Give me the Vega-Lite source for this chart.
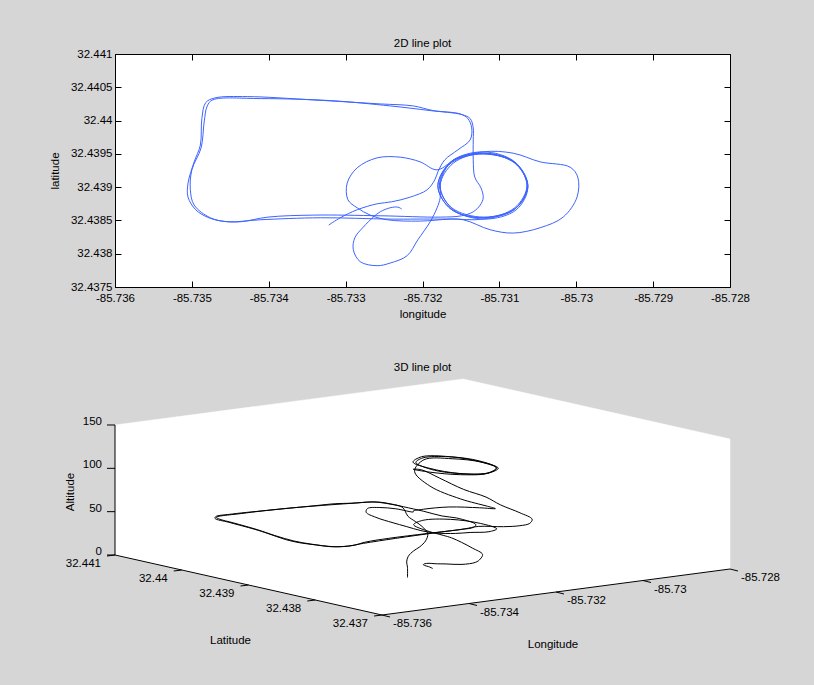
{
  "$schema": "https://vega.github.io/schema/vega-lite/v6.json",
  "background": "#d6d6d6",
  "padding": {"left": 48, "top": 37, "right": 36, "bottom": 36},
  "spacing": 41,
  "config": {
    "font": "Liberation Sans",
    "view": {"stroke": null},
    "axis": {"labelFont": "Liberation Sans", "labelFontSize": 11.5, "labelColor": "#000", "titleFont": "Liberation Sans", "titleFontSize": 11.5, "titleFontWeight": "normal", "titleColor": "#000", "tickColor": "#000", "domain": false, "grid": false, "labelFlush": false},
    "title": {"font": "Liberation Sans", "fontSize": 11.5, "fontWeight": "normal", "color": "#000"},
    "text": {"font": "Liberation Sans", "fontSize": 11.5, "color": "#000"}
  },
  "datasets": {
    "track": [
      {"lon":-85.73322,"lat":32.43843,"alt":0},{"lon":-85.73322,"lat":32.43843,"alt":12},{"lon":-85.73307,"lat":32.43854,"alt":15},{"lon":-85.73285,"lat":32.43866,"alt":18},{"lon":-85.73259,"lat":32.43875,"alt":21},{"lon":-85.73240,"lat":32.43878,"alt":24},{"lon":-85.73216,"lat":32.43885,"alt":28},{"lon":-85.73194,"lat":32.43896,"alt":33},{"lon":-85.73184,"lat":32.43911,"alt":38},{"lon":-85.73180,"lat":32.43923,"alt":41},
      {"lon":-85.73171,"lat":32.43941,"alt":44},{"lon":-85.73154,"lat":32.43956,"alt":46},{"lon":-85.73138,"lat":32.43971,"alt":47},{"lon":-85.73136,"lat":32.43989,"alt":47},{"lon":-85.73141,"lat":32.44003,"alt":47},{"lon":-85.73151,"lat":32.44010,"alt":47},{"lon":-85.73186,"lat":32.44015,"alt":47},{"lon":-85.73212,"lat":32.44022,"alt":47},{"lon":-85.73255,"lat":32.44025,"alt":47},{"lon":-85.73342,"lat":32.44031,"alt":47},
      {"lon":-85.73428,"lat":32.44036,"alt":47},{"lon":-85.73470,"lat":32.44034,"alt":47},{"lon":-85.73482,"lat":32.44027,"alt":47},{"lon":-85.73487,"lat":32.44003,"alt":47},{"lon":-85.73489,"lat":32.43963,"alt":46},{"lon":-85.73497,"lat":32.43938,"alt":46},{"lon":-85.73505,"lat":32.43906,"alt":45},{"lon":-85.73505,"lat":32.43885,"alt":45},{"lon":-85.73495,"lat":32.43866,"alt":45},{"lon":-85.73480,"lat":32.43855,"alt":44},
      {"lon":-85.73461,"lat":32.43849,"alt":44},{"lon":-85.73437,"lat":32.43848,"alt":44},{"lon":-85.73401,"lat":32.43855,"alt":44},{"lon":-85.73342,"lat":32.43858,"alt":44},{"lon":-85.73255,"lat":32.43857,"alt":44},{"lon":-85.73177,"lat":32.43855,"alt":44},{"lon":-85.73149,"lat":32.43857,"alt":44},{"lon":-85.73134,"lat":32.43863,"alt":45},{"lon":-85.73125,"lat":32.43873,"alt":45},{"lon":-85.73121,"lat":32.43884,"alt":45},
      {"lon":-85.73124,"lat":32.43899,"alt":46},{"lon":-85.73132,"lat":32.43915,"alt":46},{"lon":-85.73134,"lat":32.43941,"alt":47},{"lon":-85.73134,"lat":32.43971,"alt":47},{"lon":-85.73134,"lat":32.43989,"alt":47},{"lon":-85.73138,"lat":32.44003,"alt":47},{"lon":-85.73149,"lat":32.44009,"alt":47},{"lon":-85.73190,"lat":32.44015,"alt":47},{"lon":-85.73242,"lat":32.44022,"alt":47},{"lon":-85.73320,"lat":32.44030,"alt":47},
      {"lon":-85.73411,"lat":32.44033,"alt":47},{"lon":-85.73473,"lat":32.44031,"alt":47},{"lon":-85.73480,"lat":32.44022,"alt":47},{"lon":-85.73484,"lat":32.43998,"alt":47},{"lon":-85.73488,"lat":32.43959,"alt":46},{"lon":-85.73500,"lat":32.43926,"alt":46},{"lon":-85.73502,"lat":32.43896,"alt":45},{"lon":-85.73497,"lat":32.43873,"alt":45},{"lon":-85.73476,"lat":32.43854,"alt":44},{"lon":-85.73453,"lat":32.43848,"alt":44},
      {"lon":-85.73411,"lat":32.43851,"alt":44},{"lon":-85.73333,"lat":32.43854,"alt":44},{"lon":-85.73242,"lat":32.43852,"alt":45},{"lon":-85.73177,"lat":32.43852,"alt":45},{"lon":-85.73147,"lat":32.43851,"alt":46},{"lon":-85.73112,"lat":32.43836,"alt":46},{"lon":-85.73082,"lat":32.43831,"alt":46},{"lon":-85.73047,"lat":32.43839,"alt":45},{"lon":-85.73017,"lat":32.43855,"alt":45},{"lon":-85.72999,"lat":32.43885,"alt":46},
      {"lon":-85.72998,"lat":32.43915,"alt":50},{"lon":-85.73008,"lat":32.43930,"alt":57},{"lon":-85.73047,"lat":32.43938,"alt":67},{"lon":-85.73082,"lat":32.43951,"alt":80},{"lon":-85.73121,"lat":32.43953,"alt":92},{"lon":-85.73163,"lat":32.43938,"alt":98},{"lon":-85.73180,"lat":32.43902,"alt":102},{"lon":-85.73163,"lat":32.43867,"alt":104},{"lon":-85.73121,"lat":32.43854,"alt":105},{"lon":-85.73080,"lat":32.43867,"alt":106},
      {"lon":-85.73063,"lat":32.43902,"alt":106},{"lon":-85.73080,"lat":32.43938,"alt":107},{"lon":-85.73121,"lat":32.43953,"alt":107},{"lon":-85.73162,"lat":32.43939,"alt":106},{"lon":-85.73178,"lat":32.43903,"alt":106},{"lon":-85.73162,"lat":32.43869,"alt":105},{"lon":-85.73120,"lat":32.43855,"alt":105},{"lon":-85.73078,"lat":32.43869,"alt":106},{"lon":-85.73064,"lat":32.43903,"alt":107},{"lon":-85.73081,"lat":32.43938,"alt":107},
      {"lon":-85.73121,"lat":32.43951,"alt":106},{"lon":-85.73160,"lat":32.43936,"alt":106},{"lon":-85.73177,"lat":32.43902,"alt":105},{"lon":-85.73160,"lat":32.43866,"alt":105},{"lon":-85.73119,"lat":32.43852,"alt":106},{"lon":-85.73078,"lat":32.43866,"alt":106},{"lon":-85.73063,"lat":32.43900,"alt":106},{"lon":-85.73078,"lat":32.43935,"alt":105},{"lon":-85.73120,"lat":32.43950,"alt":104},{"lon":-85.73163,"lat":32.43936,"alt":96},
      {"lon":-85.73180,"lat":32.43902,"alt":86},{"lon":-85.73163,"lat":32.43867,"alt":76},{"lon":-85.73121,"lat":32.43854,"alt":67},{"lon":-85.73080,"lat":32.43869,"alt":59},{"lon":-85.73064,"lat":32.43903,"alt":53},{"lon":-85.73081,"lat":32.43938,"alt":49},{"lon":-85.73121,"lat":32.43950,"alt":47},{"lon":-85.73154,"lat":32.43944,"alt":48},{"lon":-85.73181,"lat":32.43926,"alt":52},{"lon":-85.73203,"lat":32.43938,"alt":55},
      {"lon":-85.73229,"lat":32.43945,"alt":57},{"lon":-85.73259,"lat":32.43944,"alt":58},{"lon":-85.73285,"lat":32.43929,"alt":58},{"lon":-85.73298,"lat":32.43906,"alt":57},{"lon":-85.73297,"lat":32.43881,"alt":55},{"lon":-85.73285,"lat":32.43869,"alt":52},{"lon":-85.73268,"lat":32.43858,"alt":48},{"lon":-85.73246,"lat":32.43851,"alt":45},{"lon":-85.73203,"lat":32.43849,"alt":42},{"lon":-85.73164,"lat":32.43852,"alt":40},
      {"lon":-85.73121,"lat":32.43852,"alt":38},{"lon":-85.73080,"lat":32.43867,"alt":36},{"lon":-85.73063,"lat":32.43902,"alt":35},{"lon":-85.73080,"lat":32.43936,"alt":35},{"lon":-85.73121,"lat":32.43951,"alt":34},{"lon":-85.73162,"lat":32.43938,"alt":34},{"lon":-85.73176,"lat":32.43911,"alt":33},{"lon":-85.73177,"lat":32.43884,"alt":32},{"lon":-85.73181,"lat":32.43869,"alt":32},{"lon":-85.73190,"lat":32.43848,"alt":31},
      {"lon":-85.73206,"lat":32.43821,"alt":30},{"lon":-85.73220,"lat":32.43797,"alt":28},{"lon":-85.73242,"lat":32.43786,"alt":26},{"lon":-85.73259,"lat":32.43782,"alt":24},{"lon":-85.73281,"lat":32.43788,"alt":22},{"lon":-85.73290,"lat":32.43806,"alt":20},{"lon":-85.73288,"lat":32.43824,"alt":17},{"lon":-85.73277,"lat":32.43840,"alt":14},{"lon":-85.73264,"lat":32.43855,"alt":10},{"lon":-85.73255,"lat":32.43863,"alt":7},
      {"lon":-85.73242,"lat":32.43869,"alt":4},{"lon":-85.73232,"lat":32.43870,"alt":2},{"lon":-85.73227,"lat":32.43867,"alt":0}
    ],
    "box": [
      {"lon":-85.736,"lat":32.441,"alt":150},{"lon":-85.728,"lat":32.441,"alt":150},{"lon":-85.728,"lat":32.437,"alt":150},{"lon":-85.728,"lat":32.437,"alt":0},{"lon":-85.736,"lat":32.437,"alt":0},{"lon":-85.736,"lat":32.441,"alt":0}
    ],
    "axes": [
      {"lon":-85.736,"lat":32.441,"alt":150},{"lon":-85.736,"lat":32.441,"alt":0},{"lon":-85.736,"lat":32.437,"alt":0},{"lon":-85.728,"lat":32.437,"alt":0}
    ],
    "ticks": [
      {"axis":"alt","lon":-85.736,"lat":32.441,"alt":0,"label":"0"},
      {"axis":"alt","lon":-85.736,"lat":32.441,"alt":50,"label":"50"},
      {"axis":"alt","lon":-85.736,"lat":32.441,"alt":100,"label":"100"},
      {"axis":"alt","lon":-85.736,"lat":32.441,"alt":150,"label":"150"},
      {"axis":"lat","lon":-85.736,"lat":32.441,"alt":0,"label":"32.441"},
      {"axis":"lat","lon":-85.736,"lat":32.44,"alt":0,"label":"32.44"},
      {"axis":"lat","lon":-85.736,"lat":32.439,"alt":0,"label":"32.439"},
      {"axis":"lat","lon":-85.736,"lat":32.438,"alt":0,"label":"32.438"},
      {"axis":"lat","lon":-85.736,"lat":32.437,"alt":0,"label":"32.437"},
      {"axis":"lon","lon":-85.736,"lat":32.437,"alt":0,"label":"-85.736"},
      {"axis":"lon","lon":-85.734,"lat":32.437,"alt":0,"label":"-85.734"},
      {"axis":"lon","lon":-85.732,"lat":32.437,"alt":0,"label":"-85.732"},
      {"axis":"lon","lon":-85.73,"lat":32.437,"alt":0,"label":"-85.73"},
      {"axis":"lon","lon":-85.728,"lat":32.437,"alt":0,"label":"-85.728"}
    ],
    "titles": [
      {"label":"Altitude","lon":-85.736,"lat":32.441,"alt":75},
      {"label":"Latitude","lon":-85.736,"lat":32.439,"alt":0},
      {"label":"Longitude","lon":-85.732,"lat":32.437,"alt":0}
    ]
  },
  "vconcat": [
    {
      "width": 615,
      "height": 233,
      "title": {"text": "2D line plot", "offset": -1},
      "view": {"fill": "white", "stroke": "#000", "strokeWidth": 1},
      "data": {"name": "track"},
      "layer": [
        {
          "mark": {"type": "line", "color": "#3c64ff", "strokeWidth": 1, "interpolate": "catmull-rom"},
          "encoding": {
            "x": {"field": "lon", "type": "quantitative", "title": "longitude",
              "scale": {"domain": [-85.736, -85.728], "nice": false, "zero": false},
              "axis": {"orient": "bottom", "values": [-85.736, -85.735, -85.734, -85.733, -85.732, -85.731, -85.73, -85.729, -85.728], "labelExpr": "replace(format(datum.value, '.6~g'), '\u2212', '-')", "tickSize": -6, "labelPadding": 11, "titlePadding": 5}},
            "y": {"field": "lat", "type": "quantitative", "title": "latitude",
              "scale": {"domain": [32.4375, 32.441], "nice": false, "zero": false},
              "axis": {"orient": "left", "values": [32.4375, 32.438, 32.4385, 32.439, 32.4395, 32.44, 32.4405, 32.441], "format": ".6~g", "tickSize": -6, "labelPadding": 9, "titlePadding": 10}},
            "order": {"value": null}
          }
        },
        {
          "mark": {"type": "point", "opacity": 0},
          "encoding": {
            "x": {"field": "lon", "type": "quantitative", "axis": {"orient": "top", "values": [-85.736, -85.735, -85.734, -85.733, -85.732, -85.731, -85.73, -85.729, -85.728], "labels": false, "tickSize": -6, "title": null}},
            "y": {"field": "lat", "type": "quantitative", "axis": {"orient": "right", "values": [32.4375, 32.438, 32.4385, 32.439, 32.4395, 32.44, 32.4405, 32.441], "labels": false, "tickSize": -6, "title": null}}
          }
        }
      ],
      "resolve": {"axis": {"x": "independent", "y": "independent"}}
    },
    {
      "width": 615,
      "height": 236,
      "title": {"text": "3D line plot", "offset": 4},
      "view": {"fill": null, "stroke": null},
      "encoding": {
        "x": {"field": "X", "type": "quantitative", "scale": {"domain": [-267, 348], "nice": false, "zero": false}, "axis": null},
        "y": {"field": "Y", "type": "quantitative", "scale": {"domain": [0, 236], "nice": false, "zero": false}, "axis": null}
      },
      "layer": [
        {
          "data": {"name": "box"},
          "transform": [
            {"calculate": "43500*(datum.lon+85.736)-66750*(datum.lat-32.437)", "as": "X"},
            {"calculate": "5750*(datum.lon+85.736)+15000*(datum.lat-32.437)+0.86667*datum.alt", "as": "Y"}
          ],
          "mark": {"type": "line", "fill": "white", "stroke": "white", "strokeWidth": 0.5},
          "encoding": {"order": {"value": null}}
        },
        {
          "data": {"name": "axes"},
          "transform": [
            {"calculate": "43500*(datum.lon+85.736)-66750*(datum.lat-32.437)", "as": "X"},
            {"calculate": "5750*(datum.lon+85.736)+15000*(datum.lat-32.437)+0.86667*datum.alt", "as": "Y"}
          ],
          "mark": {"type": "line", "color": "#000", "strokeWidth": 1},
          "encoding": {"order": {"value": null}}
        },
        {
          "data": {"name": "ticks"},
          "transform": [
            {"calculate": "43500*(datum.lon+85.736)-66750*(datum.lat-32.437)", "as": "X"},
            {"calculate": "5750*(datum.lon+85.736)+15000*(datum.lat-32.437)+0.86667*datum.alt", "as": "Y"},
            {"calculate": "datum.X + (datum.axis == 'lon' ? 8 : -8)", "as": "X2"},
            {"calculate": "datum.Y + (datum.axis == 'alt' ? 0 : datum.axis == 'lat' ? -1 : -2)", "as": "Y2"}
          ],
          "mark": {"type": "rule", "color": "#000", "strokeWidth": 1},
          "encoding": {"x2": {"field": "X2"}, "y2": {"field": "Y2"}}
        },
        {
          "data": {"name": "ticks"},
          "transform": [
            {"filter": "datum.axis == 'alt'"},
            {"calculate": "43500*(datum.lon+85.736)-66750*(datum.lat-32.437)", "as": "X"},
            {"calculate": "5750*(datum.lon+85.736)+15000*(datum.lat-32.437)+0.86667*datum.alt", "as": "Y"}
          ],
          "mark": {"type": "text", "align": "right", "baseline": "middle", "dx": -13, "dy": -3},
          "encoding": {"text": {"field": "label"}}
        },
        {
          "data": {"name": "ticks"},
          "transform": [
            {"filter": "datum.axis == 'lat'"},
            {"calculate": "43500*(datum.lon+85.736)-66750*(datum.lat-32.437)", "as": "X"},
            {"calculate": "5750*(datum.lon+85.736)+15000*(datum.lat-32.437)+0.86667*datum.alt", "as": "Y"}
          ],
          "mark": {"type": "text", "align": "right", "baseline": "middle", "dx": -14, "dy": 9},
          "encoding": {"text": {"field": "label"}}
        },
        {
          "data": {"name": "ticks"},
          "transform": [
            {"filter": "datum.axis == 'lon'"},
            {"calculate": "43500*(datum.lon+85.736)-66750*(datum.lat-32.437)", "as": "X"},
            {"calculate": "5750*(datum.lon+85.736)+15000*(datum.lat-32.437)+0.86667*datum.alt", "as": "Y"}
          ],
          "mark": {"type": "text", "align": "left", "baseline": "middle", "dx": 11, "dy": 9},
          "encoding": {"text": {"field": "label"}}
        },
        {
          "data": {"name": "titles"},
          "transform": [
            {"filter": "datum.label == 'Altitude'"},
            {"calculate": "43500*(datum.lon+85.736)-66750*(datum.lat-32.437)", "as": "X"},
            {"calculate": "5750*(datum.lon+85.736)+15000*(datum.lat-32.437)+0.86667*datum.alt", "as": "Y"}
          ],
          "mark": {"type": "text", "align": "center", "baseline": "middle", "angle": 270, "dx": -2, "dy": -44},
          "encoding": {"text": {"field": "label"}}
        },
        {
          "data": {"name": "titles"},
          "transform": [
            {"filter": "datum.label == 'Latitude'"},
            {"calculate": "43500*(datum.lon+85.736)-66750*(datum.lat-32.437)", "as": "X"},
            {"calculate": "5750*(datum.lon+85.736)+15000*(datum.lat-32.437)+0.86667*datum.alt", "as": "Y"}
          ],
          "mark": {"type": "text", "align": "center", "baseline": "middle", "dx": -18, "dy": 56},
          "encoding": {"text": {"field": "label"}}
        },
        {
          "data": {"name": "titles"},
          "transform": [
            {"filter": "datum.label == 'Longitude'"},
            {"calculate": "43500*(datum.lon+85.736)-66750*(datum.lat-32.437)", "as": "X"},
            {"calculate": "5750*(datum.lon+85.736)+15000*(datum.lat-32.437)+0.86667*datum.alt", "as": "Y"}
          ],
          "mark": {"type": "text", "align": "center", "baseline": "middle", "dx": -3, "dy": 53},
          "encoding": {"text": {"field": "label"}}
        },
        {
          "data": {"name": "track"},
          "transform": [
            {"calculate": "43500*(datum.lon+85.736)-66750*(datum.lat-32.437)", "as": "X"},
            {"calculate": "5750*(datum.lon+85.736)+15000*(datum.lat-32.437)+0.86667*datum.alt", "as": "Y"}
          ],
          "mark": {"type": "line", "color": "#000", "strokeWidth": 1, "interpolate": "catmull-rom"},
          "encoding": {"order": {"value": null}}
        }
      ]
    }
  ]
}
